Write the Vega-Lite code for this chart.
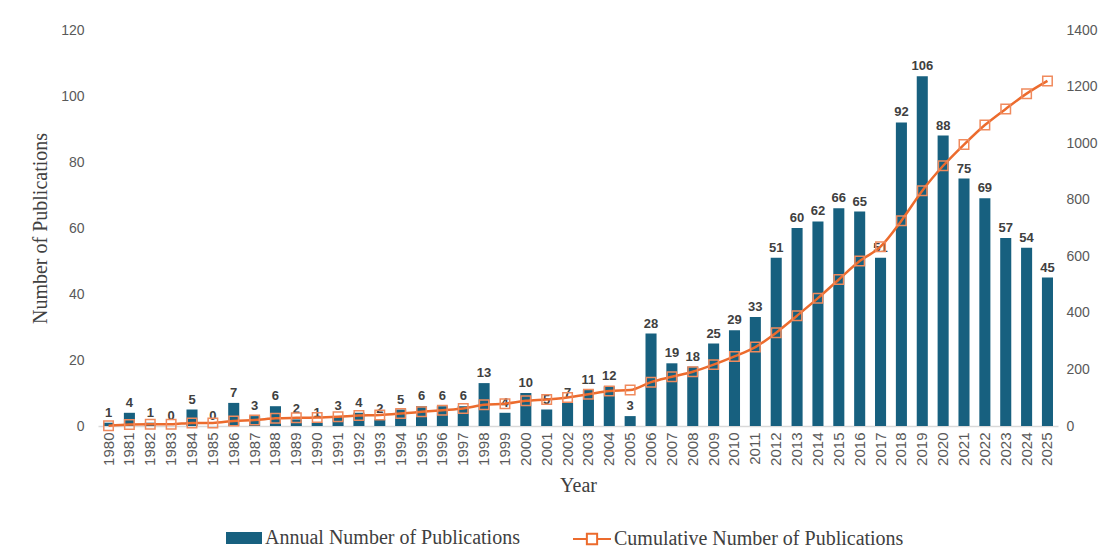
{
  "$schema": "https://vega.github.io/schema/vega-lite/v6.json",
  "autosize": {"type": "none"},
  "width": 960,
  "height": 396,
  "padding": {"left": 98, "top": 30, "right": 43, "bottom": 134},
  "background": "white",
  "config": {
    "view": {"stroke": null},
    "axis": {
      "labelFont": "Liberation Sans",
      "labelFontSize": 14,
      "labelColor": "#595959",
      "titleFont": "Liberation Serif",
      "titleFontSize": 20,
      "titleFontWeight": "normal",
      "titleColor": "#404040",
      "ticks": false,
      "grid": false
    },
    "legend": {
      "labelFont": "Liberation Serif",
      "labelFontSize": 20,
      "labelColor": "#404040",
      "labelLimit": 0
    }
  },
  "data": {
    "values": [
      {"year": "1980", "annual": 1, "cumulative": 1},
      {"year": "1981", "annual": 4, "cumulative": 5},
      {"year": "1982", "annual": 1, "cumulative": 6},
      {"year": "1983", "annual": 0, "cumulative": 6},
      {"year": "1984", "annual": 5, "cumulative": 11},
      {"year": "1985", "annual": 0, "cumulative": 11},
      {"year": "1986", "annual": 7, "cumulative": 18},
      {"year": "1987", "annual": 3, "cumulative": 21},
      {"year": "1988", "annual": 6, "cumulative": 27},
      {"year": "1989", "annual": 2, "cumulative": 29},
      {"year": "1990", "annual": 1, "cumulative": 30},
      {"year": "1991", "annual": 3, "cumulative": 33},
      {"year": "1992", "annual": 4, "cumulative": 37},
      {"year": "1993", "annual": 2, "cumulative": 39},
      {"year": "1994", "annual": 5, "cumulative": 44},
      {"year": "1995", "annual": 6, "cumulative": 50},
      {"year": "1996", "annual": 6, "cumulative": 56},
      {"year": "1997", "annual": 6, "cumulative": 62},
      {"year": "1998", "annual": 13, "cumulative": 75},
      {"year": "1999", "annual": 4, "cumulative": 79},
      {"year": "2000", "annual": 10, "cumulative": 89},
      {"year": "2001", "annual": 5, "cumulative": 94},
      {"year": "2002", "annual": 7, "cumulative": 101},
      {"year": "2003", "annual": 11, "cumulative": 112},
      {"year": "2004", "annual": 12, "cumulative": 124},
      {"year": "2005", "annual": 3, "cumulative": 127},
      {"year": "2006", "annual": 28, "cumulative": 155},
      {"year": "2007", "annual": 19, "cumulative": 174},
      {"year": "2008", "annual": 18, "cumulative": 192},
      {"year": "2009", "annual": 25, "cumulative": 217},
      {"year": "2010", "annual": 29, "cumulative": 246},
      {"year": "2011", "annual": 33, "cumulative": 279},
      {"year": "2012", "annual": 51, "cumulative": 330},
      {"year": "2013", "annual": 60, "cumulative": 390},
      {"year": "2014", "annual": 62, "cumulative": 452},
      {"year": "2015", "annual": 66, "cumulative": 518},
      {"year": "2016", "annual": 65, "cumulative": 583},
      {"year": "2017", "annual": 51, "cumulative": 634},
      {"year": "2018", "annual": 92, "cumulative": 726},
      {"year": "2019", "annual": 106, "cumulative": 832},
      {"year": "2020", "annual": 88, "cumulative": 920},
      {"year": "2021", "annual": 75, "cumulative": 995},
      {"year": "2022", "annual": 69, "cumulative": 1064},
      {"year": "2023", "annual": 57, "cumulative": 1121},
      {"year": "2024", "annual": 54, "cumulative": 1175},
      {"year": "2025", "annual": 45, "cumulative": 1220}
    ]
  },
  "encoding": {
    "x": {
      "field": "year",
      "type": "ordinal",
      "scale": {"paddingInner": 0.47, "paddingOuter": 0.24},
      "axis": {
        "title": "Year",
        "labelAngle": -90,
        "labelFontSize": 15,
        "labelPadding": 6,
        "titlePadding": 10,
        "domainColor": "#d9d9d9",
        "domainWidth": 1.5
      }
    }
  },
  "layer": [
    {
      "encoding": {
        "y": {
          "field": "annual",
          "type": "quantitative",
          "scale": {"domain": [0, 120]},
          "axis": {
            "title": "Number of Publications",
            "values": [0, 20, 40, 60, 80, 100, 120],
            "domain": false,
            "labelPadding": 14,
            "titlePadding": 10
          }
        }
      },
      "layer": [
        {
          "mark": {"type": "bar", "color": "#17607F"},
          "encoding": {
            "fill": {
              "datum": "Annual Number of Publications",
              "scale": {"range": ["#17607F"]},
              "legend": {
                "title": null,
                "orient": "none",
                "legendX": 128,
                "legendY": 490,
                "symbolType": "M-1,-0.33 L1,-0.33 L1,0.33 L-1,0.33 Z",
                "symbolSize": 1296,
                "symbolStrokeWidth": 0,
                "labelOffset": 3
              }
            }
          }
        },
        {
          "mark": {
            "type": "text",
            "dy": -10,
            "font": "Liberation Sans",
            "fontSize": 13,
            "fontWeight": "bold",
            "color": "#404040"
          },
          "encoding": {"text": {"field": "annual", "type": "quantitative"}}
        }
      ]
    },
    {
      "encoding": {
        "y": {
          "field": "cumulative",
          "type": "quantitative",
          "scale": {"domain": [0, 1400]},
          "axis": {
            "orient": "right",
            "title": null,
            "format": "d",
            "values": [0, 200, 400, 600, 800, 1000, 1200, 1400],
            "domain": false,
            "labelPadding": 8
          }
        }
      },
      "layer": [
        {
          "mark": {"type": "line", "interpolate": "monotone", "strokeWidth": 2.5},
          "encoding": {
            "stroke": {
              "datum": "Cumulative Number of Publications",
              "scale": {"range": ["#EC6B2D"]},
              "legend": {
                "title": null,
                "orient": "none",
                "legendX": 474,
                "legendY": 489,
                "symbolType": "M-1,0 L-0.27,0 M0.27,0 L1,0 M-0.27,-0.27 L0.27,-0.27 L0.27,0.27 L-0.27,0.27 Z",
                "symbolSize": 1444,
                "symbolStrokeWidth": 2,
                "labelOffset": 2
              }
            }
          }
        },
        {
          "mark": {
            "type": "point",
            "shape": "square",
            "filled": false,
            "size": 90,
            "strokeWidth": 1.5,
            "color": "#F08A5D",
            "opacity": 1
          },
          "encoding": {}
        }
      ]
    }
  ],
  "resolve": {"scale": {"y": "independent", "fill": "independent", "stroke": "independent"}}
}
